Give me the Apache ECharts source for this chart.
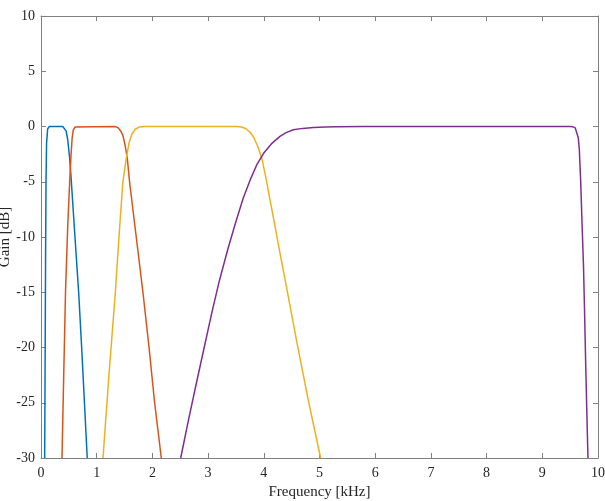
<!DOCTYPE html>
<html>
<head>
<meta charset="utf-8">
<script src="https://cdn.jsdelivr.net/npm/echarts@6/dist/echarts.min.js"></script>
<style>html,body{margin:0;padding:0;background:#fff;}#c{width:605px;height:501px;}</style>
</head>
<body>
<div id="c"></div>
<script>
// Band 1 (blue)
const freq1 = [0.066, 0.075, 0.082, 0.09, 0.10, 0.12, 0.15, 0.39, 0.42, 0.45, 0.48, 0.515, 0.545, 0.61, 0.676, 0.73, 0.78, 0.83];
const gain1 = [-30, -20, -12, -5, -1.5, -0.2, 0, 0, -0.1, -0.4, -1.2, -2.9, -5, -10, -15, -20, -25, -30];
// Band 2 (red)
const freq2 = [0.377, 0.41, 0.44, 0.48, 0.515, 0.54, 0.56, 0.58, 0.61, 0.64, 1.33, 1.38, 1.43, 1.47, 1.51, 1.55, 1.59, 1.71, 1.83, 1.94, 2.04, 2.16];
const gain2 = [-30, -22, -15, -9, -5, -2.5, -1, -0.3, -0.05, 0, 0, -0.1, -0.4, -0.8, -1.7, -2.9, -5, -10, -15, -20, -25, -30];
// Band 3 (yellow)
const freq3 = [1.113, 1.22, 1.335, 1.40, 1.47, 1.53, 1.58, 1.63, 1.69, 1.76, 1.85, 3.5, 3.6, 3.68, 3.75, 3.82, 3.9, 3.97, 4.04, 4.11, 4.2, 4.3, 4.41, 4.6, 4.8, 5.02];
const gain3 = [-30, -22.5, -15, -10, -5, -2.9, -1.5, -0.7, -0.25, -0.05, 0, 0, -0.05, -0.2, -0.5, -1, -1.9, -3, -4.7, -6.6, -9, -11.7, -14.6, -19.7, -24.8, -30];
// Band 4 (purple)
const freq4 = [2.508, 2.65, 2.795, 2.93, 3.06, 3.2, 3.36, 3.5, 3.63, 3.75, 3.87, 4.0, 4.15, 4.29, 4.4, 4.53, 4.7, 4.89, 5.1, 5.3, 5.8, 9.5, 9.55, 9.59, 9.62, 9.645, 9.665, 9.69, 9.715, 9.74, 9.76, 9.78, 9.80, 9.82];
const gain4 = [-30, -26.5, -23.1, -20, -17, -14, -11, -8.6, -6.5, -4.9, -3.5, -2.4, -1.5, -0.9, -0.55, -0.3, -0.17, -0.1, -0.05, -0.02, 0, 0, -0.03, -0.12, -0.3, -1, -2.1, -5.1, -9, -12.7, -17, -21.7, -26, -30];

const xTicks = [0,1,2,3,4,5,6,7,8,9,10];
const yTicks = [-30,-25,-20,-15,-10,-5,0,5,10];
const colors = ['#0072BD', '#D95319', '#EDB120', '#7E2F8E'];

const zip = (a, b) => a.map((v, i) => [v, b[i]]);
const bands = [zip(freq1, gain1), zip(freq2, gain2), zip(freq3, gain3), zip(freq4, gain4)];

const axisColor = '#808080';
const font = 'Liberation Serif';
const labelStyle = { color: '#262626', fontFamily: font, fontSize: 14 };
const line = { show: true, onZero: false, lineStyle: { color: axisColor, width: 1 } };
const tick = { show: true, inside: true, length: 5, lineStyle: { color: axisColor } };

const chart = echarts.init(document.getElementById('c'), null, { renderer: 'canvas' });
chart.setOption({
  animation: false,
  backgroundColor: '#fff',
  grid: { left: 41, right: 7, top: 16, bottom: 43, containLabel: false, outerBoundsMode: 'none' },
  xAxis: [{
    type: 'value', min: xTicks[0], max: xTicks[xTicks.length - 1], interval: 1,
    position: 'bottom',
    name: 'Frequency [kHz]', nameLocation: 'middle', nameGap: 27, nameMoveOverlap: false,
    nameTextStyle: { color: '#262626', fontFamily: font, fontSize: 15 },
    axisLine: line, axisTick: tick,
    axisLabel: Object.assign({ margin: 8 }, labelStyle),
    splitLine: { show: false }
  }, {
    type: 'value', min: xTicks[0], max: xTicks[xTicks.length - 1], interval: 1,
    position: 'top',
    axisLine: line, axisTick: tick,
    axisLabel: { show: false },
    splitLine: { show: false }
  }],
  yAxis: [{
    type: 'value', min: yTicks[0], max: yTicks[yTicks.length - 1], interval: 5,
    position: 'left',
    name: 'Gain [dB]', nameLocation: 'middle', nameGap: 28, nameMoveOverlap: false,
    nameTextStyle: { color: '#262626', fontFamily: font, fontSize: 15 },
    axisLine: line, axisTick: tick,
    axisLabel: Object.assign({ margin: 6 }, labelStyle),
    splitLine: { show: false }
  }, {
    type: 'value', min: yTicks[0], max: yTicks[yTicks.length - 1], interval: 5,
    position: 'right',
    axisLine: line, axisTick: tick,
    axisLabel: { show: false },
    splitLine: { show: false }
  }],
  series: bands.map((d, i) => ({
    type: 'line', data: d, xAxisIndex: 0, yAxisIndex: 0,
    showSymbol: false, smooth: false, clip: true,
    lineStyle: { color: colors[i], width: 1.5 },
    itemStyle: { color: colors[i] }
  }))
});
</script>
</body>
</html>
